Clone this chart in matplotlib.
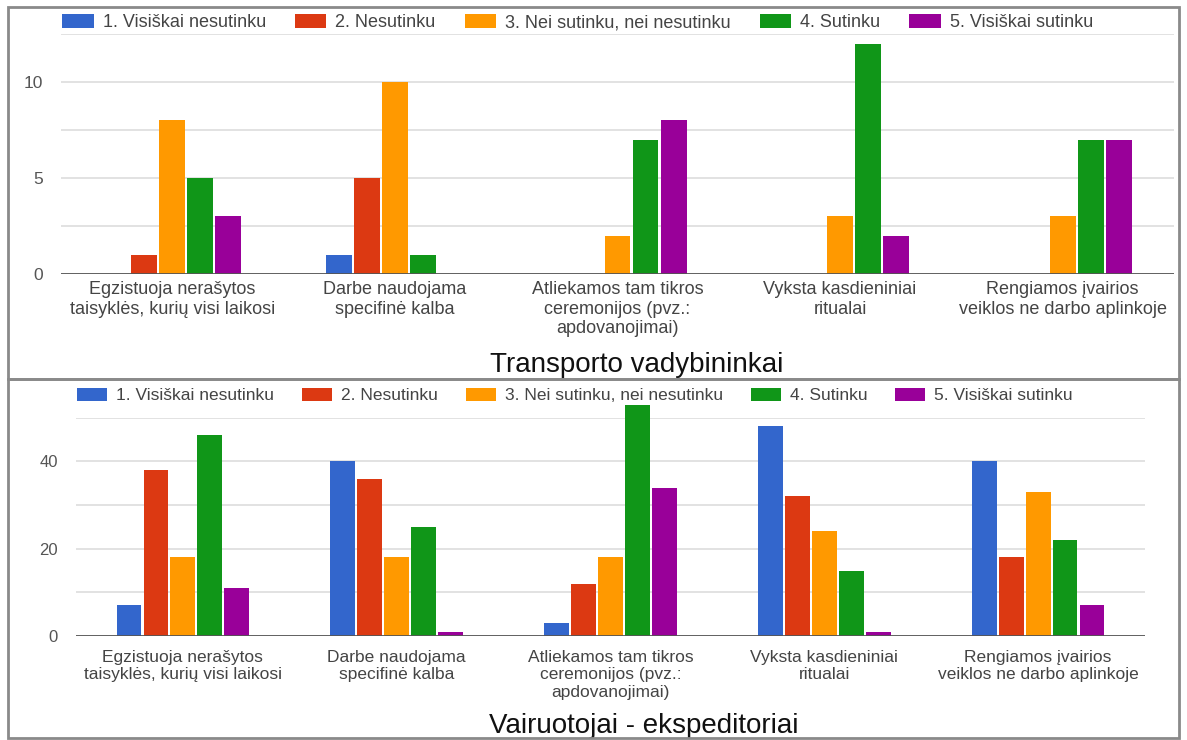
import matplotlib
matplotlib.use("Agg")
import matplotlib.pyplot as plt
from matplotlib.patches import Rectangle
import numpy as np

plt.rcParams['font.family'] = ['Liberation Sans', 'DejaVu Sans']

# ---- data ----
categories = [
    "Egzistuoja nerašytos\ntaisyklės, kurių visi laikosi",
    "Darbe naudojama\nspecifinė kalba",
    "Atliekamos tam tikros\nceremonijos (pvz.:\napdovanojimai)",
    "Vyksta kasdieniniai\nritualai",
    "Rengiamos įvairios\nveiklos ne darbo aplinkoje",
]
series_names = [
    "1. Visiškai nesutinku",
    "2. Nesutinku",
    "3. Nei sutinku, nei nesutinku",
    "4. Sutinku",
    "5. Visiškai sutinku",
]
colors = ['#3366cc', '#dc3912', '#ff9900', '#109618', '#990099']

# Transporto vadybininkai: one list per answer option, one value per statement
tv_1 = [0, 1, 0, 0, 0]
tv_2 = [1, 5, 0, 0, 0]
tv_3 = [8, 10, 2, 3, 3]
tv_4 = [5, 1, 7, 12, 7]
tv_5 = [3, 0, 8, 2, 7]

# Vairuotojai - ekspeditoriai
ve_1 = [7, 40, 3, 48, 40]
ve_2 = [38, 36, 12, 32, 18]
ve_3 = [18, 18, 18, 24, 33]
ve_4 = [46, 25, 53, 15, 22]
ve_5 = [11, 1, 34, 1, 7]

W, H = 1187, 740
fig = plt.figure(figsize=(W / 100, H / 100), dpi=100)
fig.patch.set_facecolor('white')


def px_box(left, top, right, bottom):
    return [left / W, (H - bottom) / H, (right - left) / W, (bottom - top) / H]


def draw_panel(rect, series, ymax, major, minor, label_pad, legend_xy, title, title_xy,
               fs_small):
    ax = fig.add_axes(px_box(*rect))
    x = np.arange(len(categories))
    pitch = 0.126
    width = 0.116
    for i, (vals, c) in enumerate(zip(series, colors)):
        ax.bar(x + (i - 2) * pitch, vals, width=width, color=c, label=series_names[i],
               zorder=3, clip_on=False, linewidth=0)
    ax.set_xlim(-0.5, len(categories) - 0.5)
    ax.set_ylim(0, ymax)
    ax.set_yticks(major)
    ax.set_yticklabels([str(v) for v in major], fontsize=fs_small - 0.5, color='#555')
    ax.set_yticks(minor, minor=True)
    ax.grid(True, axis='y', which='both', color='#e2e2e2', linewidth=1.4, zorder=0)
    ax.set_axisbelow(True)
    ax.tick_params(axis='y', which='both', length=0, pad=13)
    ax.set_xticks(x)
    ax.set_xticklabels(categories, fontsize=fs_small, color='#444', linespacing=1.2)
    ax.tick_params(axis='x', length=0, pad=label_pad)
    for s in ax.spines.values():
        s.set_visible(False)
    ax.axhline(0, color='#555555', linewidth=2.0, zorder=4)

    leg = ax.legend(loc='center left',
                    bbox_to_anchor=(legend_xy[0] / W, (H - legend_xy[1]) / H),
                    bbox_transform=fig.transFigure, ncol=5, frameon=False,
                    fontsize=fs_small, handlelength=1.75, handleheight=0.8,
                    handletextpad=0.5, columnspacing=1.6, borderpad=0,
                    borderaxespad=0)
    for t in leg.get_texts():
        t.set_color('#444')

    fig.text(title_xy[0] / W, (H - title_xy[1]) / H, title, ha='center', va='baseline',
             fontsize=20, color='#111',
             bbox=dict(facecolor='white', edgecolor='none', pad=4), zorder=5)
    return ax


draw_panel((61, 34, 1174, 274), [tv_1, tv_2, tv_3, tv_4, tv_5], 12.5,
           [0, 5, 10], [2.5, 7.5, 12.5], 5,
           (62, 22.5), "Transporto vadybininkai", (637, 372), 13)
draw_panel((76, 417.7, 1145, 636), [ve_1, ve_2, ve_3, ve_4, ve_5], 50,
           [0, 20, 40], [10, 30, 50], 10,
           (77, 395.5), "Vairuotojai - ekspeditoriai", (644, 733), 12.5)

# panel frames
for top, bottom in [(7, 379), (379, 738)]:
    fig.add_artist(Rectangle((8 / W, (H - bottom) / H), (1179 - 8) / W, (bottom - top) / H,
                             transform=fig.transFigure, fill=False,
                             edgecolor='#8a8a8a', linewidth=2, zorder=10))

fig.savefig("out.png", dpi=100, facecolor='white')
